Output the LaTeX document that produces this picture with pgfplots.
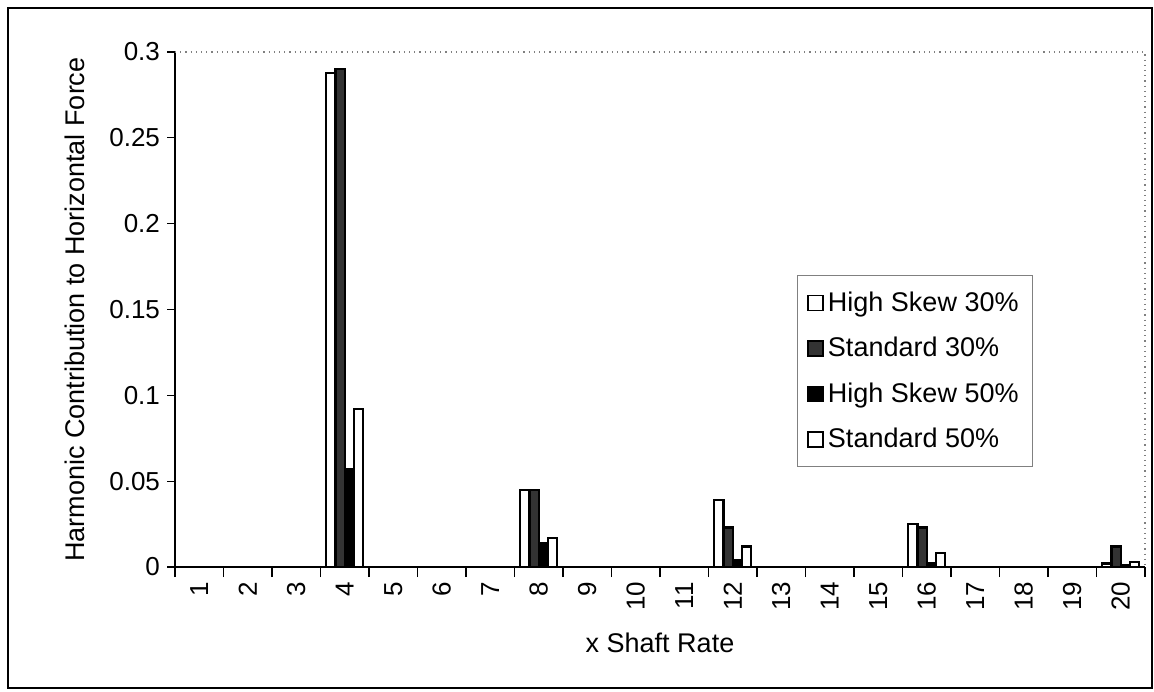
\documentclass[border=0pt]{standalone}
\usepackage{fontspec}
\setmainfont{Liberation Sans}
\usepackage{pgfplots}
\pgfplotsset{compat=1.18}

% bar heights (categories 4, 8, 12, 16, 20)
\pgfplotstableread{
x hs30 std30 hs50 std50
4  0.288 0.290 0.057 0.092
8  0.045 0.045 0.014 0.017
12 0.039 0.023 0.004 0.012
16 0.025 0.023 0.002 0.008
20 0.002 0.012 0.001 0.003
}\harm

\begin{document}
\begin{tikzpicture}
\useasboundingbox (0,0) rectangle (577pt,345.5pt);
\draw[black, line width=1pt] (4pt,1.5pt) rectangle (576pt,341.5pt);
\begin{axis}[
  at={(87.5pt,62pt)}, anchor=south west,
  scale only axis, width=485pt, height=257.5pt,
  ybar=0pt, bar width=0.19,
  xmin=0.5, xmax=20.5, ymin=0, ymax=0.3,
  axis x line*=bottom, axis y line*=left,
  axis line style={black, line width=0.8pt, -},
  /pgf/number format/assume math mode=true,
  xtick={1,...,20},
  minor xtick={0.5,1.5,...,20.5},
  every major x tick/.append style={draw=none},
  every minor x tick/.append style={black, line width=0.6pt},
  ytick={0,0.05,0.1,0.15,0.2,0.25,0.3},
  yticklabels={0,0.05,0.1,0.15,0.2,0.25,0.3},
  tick align=outside, major tick length=4pt, minor tick length=5pt,
  ytick style={black, line width=0.6pt},
  xticklabel style={rotate=90, anchor=east},
  tick label style={font=\fontsize{13}{15}\selectfont},
  label style={font=\fontsize{13.5}{16}\selectfont},
  xlabel={x Shaft Rate},
  ylabel={Harmonic Contribution to Horizontal Force},
  xlabel style={at={(axis description cs:0.5,-0.148)}, anchor=center},
  ylabel style={at={(axis description cs:-0.103,0.5)}, anchor=center, rotate=0},
  legend style={at={(axis description cs:0.641,0.567)}, anchor=north west,
    draw=gray, line width=0.6pt, font=\fontsize{13.5}{16}\selectfont,
    row sep=7.5pt, inner xsep=5pt, inner ysep=6pt},
  legend cell align=left,
  legend image code/.code={\draw[#1, line width=0.8pt] (0pt,-3.75pt) rectangle (7.5pt,3.75pt);},
]
\addplot[fill=white, draw=black, line width=1.1pt] table[x=x, y=hs30] {\harm};
\addplot[fill=black!80, draw=black, line width=1.1pt] table[x=x, y=std30] {\harm};
\addplot[fill=black, draw=black, line width=1.1pt] table[x=x, y=hs50] {\harm};
\addplot[fill=white, draw=black, line width=1.1pt] table[x=x, y=std50] {\harm};
\legend{High Skew 30\%, Standard 30\%, High Skew 50\%, Standard 50\%}
\end{axis}
\draw[gray, dotted, line width=0.6pt] (87.5pt,319.5pt) -- (572.5pt,319.5pt) -- (572.5pt,62pt);
\end{tikzpicture}
\end{document}
